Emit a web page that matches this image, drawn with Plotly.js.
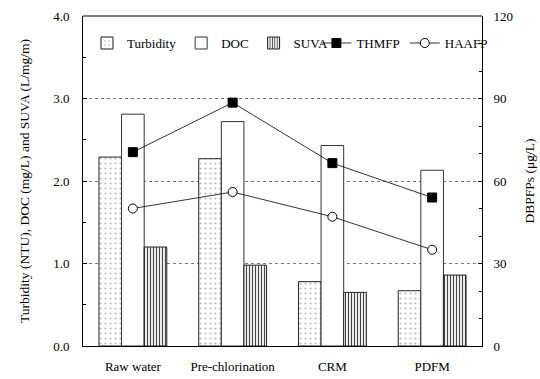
<!DOCTYPE html>
<html><head><meta charset="utf-8">
<script src="https://cdn.plot.ly/plotly-3.0.1.min.js"></script>
<style>
body{margin:0;background:#fff}
#c .main-svg text{font-family:"Liberation Serif", serif !important;}
</style>
</head><body><div id="c"></div>
<script>
const categories = ["Raw water", "Pre-chlorination", "CRM", "PDFM"];
const turbidity = [2.29, 2.27, 0.78, 0.67];
const doc = [2.81, 2.72, 2.43, 2.13];
const suva = [1.20, 0.98, 0.65, 0.86];
const thmfp = [70.5, 88.5, 66.5, 54];
const haafp = [50, 56, 47, 35];

const FAM = "Liberation Serif";
function F(size) { return {family: FAM, size: size, color: "#000"}; }
const data = [
  {type: "bar", name: "Turbidity", x: categories, y: turbidity, legend: "legend",
   marker: {color: "#fff", line: {color: "#222", width: 1},
     pattern: {shape: ".", fgcolor: "#bbb", bgcolor: "#fff", size: 5, solidity: 0.15}}},
  {type: "bar", name: "DOC", x: categories, y: doc, legend: "legend",
   marker: {color: "#fff", line: {color: "#333", width: 1}}},
  {type: "bar", name: "SUVA", x: categories, y: suva, legend: "legend",
   marker: {color: "#fff", line: {color: "#222", width: 1},
     pattern: {shape: "|", fgcolor: "#444", bgcolor: "#fff", size: 3, solidity: 0.4}}},
  {type: "scatter", mode: "lines+markers", name: "THMFP", x: categories, y: thmfp, yaxis: "y2", legend: "legend2",
   line: {color: "#000", width: 0.8},
   marker: {symbol: "square", size: 9, color: "#000", line: {color: "#000", width: 1}}},
  {type: "scatter", mode: "lines+markers", name: "HAAFP", x: categories, y: haafp, yaxis: "y2", legend: "legend2",
   line: {color: "#000", width: 0.8},
   marker: {symbol: "circle", size: 9, color: "#fff", line: {color: "#000", width: 1}}}
];
const layout = {
  width: 540, height: 379,
  margin: {l: 83, r: 58, t: 16, b: 33},
  paper_bgcolor: "#fff", plot_bgcolor: "#fff",
  font: F(13),
  barmode: "group", bargap: 0.32, bargroupgap: 0,
  showlegend: true,
  legend: {orientation: "h", x: 0.01, y: 0.918, xanchor: "left", yanchor: "middle",
    bgcolor: "rgba(0,0,0,0)", font: F(13), itemwidth: 30, tracegroupgap: 0},
  legend2: {orientation: "h", x: 0.585, y: 0.918, xanchor: "left", yanchor: "middle",
    bgcolor: "rgba(0,0,0,0)", font: F(13), itemwidth: 30, tracegroupgap: 0},
  xaxis: {showline: true, linecolor: "#000", linewidth: 1, ticks: "", showgrid: false,
    tickfont: F(13), ticklabelstandoff: 8},
  yaxis: {range: [0, 4], dtick: 1, tickformat: ".1f", showline: true, linecolor: "#000", linewidth: 1,
    ticks: "inside", ticklen: 4, tickcolor: "#000", ticklabelstandoff: 10,
    minor: {dtick: 0.5, ticks: "inside", ticklen: 3, tickcolor: "#000", showgrid: false},
    showgrid: true, gridcolor: "#777", griddash: "dot", gridwidth: 0.8, zeroline: false,
    tickfont: F(13),
    title: {text: "Turbidity (NTU), DOC (mg/L) and SUVA (L/mg/m)", font: F(13.5), standoff: 20}},
  yaxis2: {range: [0, 120], dtick: 30, overlaying: "y", side: "right", showline: true, linecolor: "#000", linewidth: 1,
    ticks: "inside", ticklen: 4, tickcolor: "#000", ticklabelstandoff: 8,
    minor: {dtick: 10, ticks: "inside", ticklen: 3, tickcolor: "#000", showgrid: false},
    showgrid: false, zeroline: false, tickfont: F(13),
    title: {text: "DBPFPs (μg/L)", font: F(13.5), standoff: 12}},
  shapes: [{type: "line", xref: "paper", yref: "paper", x0: 0, x1: 1, y0: 1, y1: 1, line: {color: "#000", width: 1}}]
};
Plotly.newPlot("c", data, layout, {displayModeBar: false});
</script></body></html>
